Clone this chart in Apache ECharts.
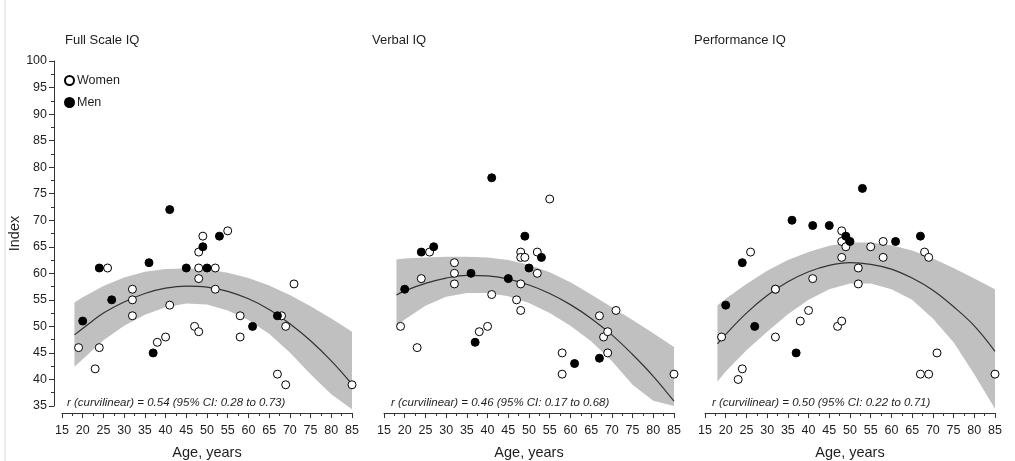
<!DOCTYPE html>
<html><head><meta charset="utf-8">
<script src="https://cdn.jsdelivr.net/npm/echarts@6/dist/echarts.min.js"></script>
<style>html,body{margin:0;padding:0;background:#fff}#c{width:1015px;height:461px}</style>
</head><body><div id="c"></div>
<script>
// ---- data ----
const panelTitles = ['Full Scale IQ', 'Verbal IQ', 'Performance IQ'];
const rTexts = [
  'r (curvilinear) = 0.54 (95% CI: 0.28 to 0.73)',
  'r (curvilinear) = 0.46 (95% CI: 0.17 to 0.68)',
  'r (curvilinear) = 0.50 (95% CI: 0.22 to 0.71)'
];
const yAxisName = 'Index';
const xAxisName = 'Age, years';

const womenAge  = [19,23,24,26,32,32,32,38,40,41,47,48,48,48,48,49,52,52,55,58,58,67,68,69,69,71,85];
const womenFSIQ = [46,42,46,61,57,55,52,47,48,54,50,49,64,61,59,67,61,57,68,52,48,41,52,50,39,58,39];
const womenVIQ  = [50,46,59,64,62,60,58,49,50,56,55,53,58,64,63,63,64,60,74,45,41,52,48,49,45,53,41];
const womenPIQ  = [48,40,42,64,57,48,57,51,53,59,50,51,68,66,63,65,61,58,65,66,63,41,64,63,41,45,41];

const menAge  = [20,24,27,36,37,41,45,49,50,53,61,67];
const menFSIQ = [51,61,55,62,45,72,61,65,61,67,50,52];
const menVIQ  = [57,64,65,60,47,78,59,67,61,63,43,44];
const menPIQ  = [54,62,50,70,45,69,69,67,66,76,66,67];

const fitAge = [18,20,25,30,35,40,45,50,55,60,65,70,75,80,85];
const fitFSIQ  = [48.4,49.6,52.5,54.6,56.2,57.2,57.6,57.4,56.6,55.2,53.2,50.5,47.3,43.5,39.1];
const hiFSIQ   = [54.5,55.5,57.6,59.2,60.3,60.8,60.9,60.7,60.1,59.1,57.7,55.9,53.8,51.5,49.0];
const loFSIQ   = [42.4,43.8,47.4,50.1,52.2,53.6,54.3,54.1,53.0,51.2,48.6,45.1,41.0,37.2,34.4];
const fitVIQ   = [55.9,56.7,58.1,59.1,59.6,59.5,58.9,57.8,56.2,54.1,51.5,48.4,44.7,40.6,35.9];
const hiVIQ    = [62.6,62.8,63.0,63.1,63.1,63.0,62.5,61.6,60.2,58.3,56.0,53.6,51.2,48.7,46.1];
const loVIQ    = [50.0,51.3,53.9,55.6,56.3,56.3,55.7,54.4,52.5,50.1,47.2,43.5,39.0,36.0,35.0];
const fitPIQ   = [46.7,48.5,52.5,55.8,58.4,60.3,61.5,62.0,61.7,60.8,59.1,56.8,53.7,50.1,45.3];
const hiPIQ    = [54.0,55.2,58.0,60.5,62.5,64.0,65.2,65.8,65.8,65.3,64.3,62.8,61.0,59.0,57.0];
const loPIQ    = [39.6,41.5,45.5,49.0,52.3,55.0,57.0,58.1,58.1,57.0,55.0,51.5,47.0,41.0,34.5];

// ---- build ----
const FONT = '"Liberation Sans", Arial, Helvetica, sans-serif';
const TXT = '#1e1e1e';
const AX = '#333';
const panels = [
  {women: womenFSIQ, men: menFSIQ, fit: fitFSIQ, hi: hiFSIQ, lo: loFSIQ},
  {women: womenVIQ,  men: menVIQ,  fit: fitVIQ,  hi: hiVIQ,  lo: loVIQ},
  {women: womenPIQ,  men: menPIQ,  fit: fitPIQ,  hi: hiPIQ,  lo: loPIQ}
];
const lefts = [62, 384, 705];
const W = 290;

const grid = lefts.map(l => ({left: l, top: 61, width: W, height: 345,
  containLabel: false, outerBoundsMode: 'none'}));
const xAxis = lefts.map((l, i) => ({
  type: 'value', gridIndex: i, min: 15, max: 85, interval: 5, offset: 7,
  axisLine: {show: true, lineStyle: {color: AX, width: 1}},
  axisTick: {show: true, inside: false, length: 5, lineStyle: {color: AX}},
  minorTick: {show: true, splitNumber: 2, length: 3, lineStyle: {color: AX}},
  splitLine: {show: false},
  axisLabel: {fontSize: 12.5, color: TXT, margin: 11, fontFamily: FONT},
  name: xAxisName, nameLocation: 'middle', nameGap: 32,
  nameTextStyle: {fontSize: 14.5, color: TXT, fontFamily: FONT}
}));
const yAxis = lefts.map((l, i) => ({
  type: 'value', gridIndex: i, min: 35, max: 100, interval: 5,
  show: i === 0, offset: 8,
  axisLine: {show: true, lineStyle: {color: AX, width: 1}},
  axisTick: {show: true, length: 5, lineStyle: {color: AX}},
  minorTick: {show: true, splitNumber: 2, length: 3, lineStyle: {color: AX}},
  splitLine: {show: false},
  axisLabel: {fontSize: 12.5, color: TXT, margin: 7, fontFamily: FONT},
  name: i === 0 ? yAxisName : '', nameLocation: 'middle', nameGap: 32, nameRotate: 90,
  nameTextStyle: {fontSize: 14.5, color: TXT, fontFamily: FONT}
}));

const series = [];
panels.forEach((p, i) => {
  const band = fitAge.map((a, k) => [a, p.lo[k], p.hi[k]]);
  series.push({
    type: 'custom', xAxisIndex: i, yAxisIndex: i, z: 1, silent: true,
    data: band,
    renderItem: function (params, api) {
      if (params.dataIndex !== 0) return null;
      const pts = [];
      band.forEach(d => pts.push(api.coord([d[0], d[1]])));
      for (let k = band.length - 1; k >= 0; k--) pts.push(api.coord([band[k][0], band[k][2]]));
      return {type: 'polygon', shape: {points: pts}, style: {fill: '#c0c0c0'}};
    }
  });
  series.push({
    type: 'line', xAxisIndex: i, yAxisIndex: i, z: 2, silent: true,
    data: fitAge.map((a, k) => [a, p.fit[k]]),
    smooth: 0.4, showSymbol: false,
    lineStyle: {color: '#333', width: 1.2}
  });
  series.push({
    name: 'Women', type: 'scatter', xAxisIndex: i, yAxisIndex: i, z: 3,
    data: womenAge.map((a, k) => [a, p.women[k]]),
    symbol: 'circle', symbolSize: 8,
    itemStyle: {color: '#fff', borderColor: '#000', borderWidth: 1, opacity: 1}
  });
  series.push({
    name: 'Men', type: 'scatter', xAxisIndex: i, yAxisIndex: i, z: 4,
    data: menAge.map((a, k) => [a, p.men[k]]),
    symbol: 'circle', symbolSize: 8,
    itemStyle: {color: '#000', borderColor: '#000', borderWidth: 1, opacity: 1}
  });
});

const title = panelTitles.map((t, i) => ({
  text: t, left: [65, 372, 694][i], top: 34, padding: 0,
  textStyle: {fontSize: 13, fontWeight: 'normal', color: TXT, fontFamily: FONT}
}));

const graphic = rTexts.map((t, i) => ({
  type: 'text', left: [67, 391, 712][i], top: 397, silent: true,
  style: {text: t, fill: TXT, font: 'italic 11.5px ' + FONT}
}));
graphic.push({type: 'line', shape: {x1: 5, y1: 0, x2: 5, y2: 461}, style: {stroke: '#d8d8d8', lineWidth: 1}, silent: true});

const chart = echarts.init(document.getElementById('c'), null, {renderer: 'canvas'});
chart.setOption({
  animation: false,
  backgroundColor: '#fff',
  title: title,
  legend: {
    data: ['Women', 'Men'], orient: 'vertical', left: 64, top: 74, padding: 0,
    itemWidth: 9, itemHeight: 9, itemGap: 9, icon: 'circle',
    textStyle: {fontSize: 12.5, color: TXT, fontFamily: FONT, padding: [0, 0, 0, -2]}
  },
  grid: grid, xAxis: xAxis, yAxis: yAxis, series: series, graphic: graphic
});
</script></body></html>
